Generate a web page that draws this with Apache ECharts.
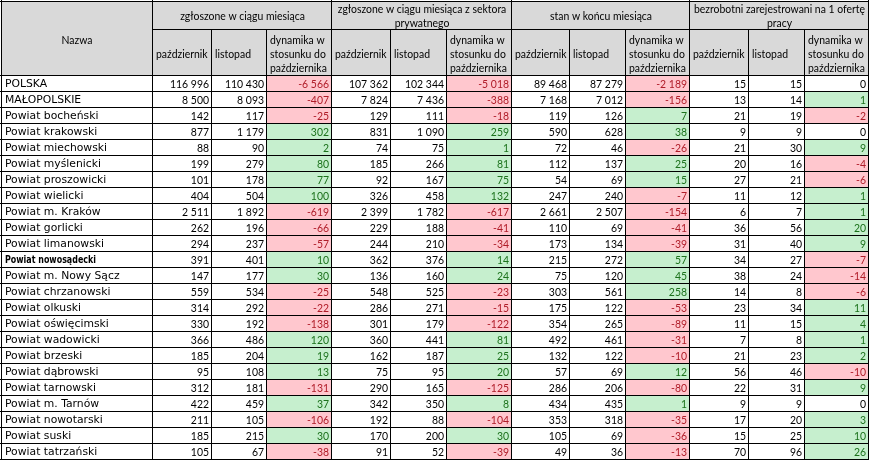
<!DOCTYPE html>
<html><head><meta charset="utf-8">
<script src="https://cdn.jsdelivr.net/npm/echarts@6/dist/echarts.min.js"></script>
<style>html,body{margin:0;padding:0;background:#fff}#c{width:871px;height:461px}</style>
</head><body><div id="c"></div>
<script>
const names = ["POLSKA","MAŁOPOLSKIE","Powiat bocheński","Powiat krakowski","Powiat miechowski","Powiat myślenicki","Powiat proszowicki","Powiat wielicki","Powiat m. Kraków","Powiat gorlicki","Powiat limanowski","Powiat nowosądecki","Powiat m. Nowy Sącz","Powiat chrzanowski","Powiat olkuski","Powiat oświęcimski","Powiat wadowicki","Powiat brzeski","Powiat dąbrowski","Powiat tarnowski","Powiat m. Tarnów","Powiat nowotarski","Powiat suski","Powiat tatrzański"];
const boldNames = ["Powiat nowosądecki"];
const groupHeaders = ["zgłoszone w ciągu miesiąca","zgłoszone w ciągu miesiąca z sektora\nprywatnego","stan w końcu miesiąca","bezrobotni zarejestrowani na 1 ofertę\npracy"];
const subHeaders = ["październik","listopad","dynamika w\nstosunku do\npaździernika"];
const nameHeader = "Nazwa";

const zOct = [116996,8500,142,877,88,199,101,404,2511,262,294,391,147,559,314,330,366,185,95,312,422,211,185,105];
const zNov = [110430,8093,117,1179,90,279,178,504,1892,196,237,401,177,534,292,192,486,204,108,181,459,105,215,67];
const zDyn = [-6566,-407,-25,302,2,80,77,100,-619,-66,-57,10,30,-25,-22,-138,120,19,13,-131,37,-106,30,-38];
const pOct = [107362,7824,129,831,74,185,92,326,2399,229,244,362,136,548,286,301,360,162,75,290,342,192,170,91];
const pNov = [102344,7436,111,1090,75,266,167,458,1782,188,210,376,160,525,271,179,441,187,95,165,350,88,200,52];
const pDyn = [-5018,-388,-18,259,1,81,75,132,-617,-41,-34,14,24,-23,-15,-122,81,25,20,-125,8,-104,30,-39];
const sOct = [89468,7168,119,590,72,112,54,247,2661,110,173,215,75,303,175,354,492,132,57,286,434,353,105,49];
const sNov = [87279,7012,126,628,46,137,69,240,2507,69,134,272,120,561,122,265,461,122,69,206,435,318,69,36];
const sDyn = [-2189,-156,7,38,-26,25,15,-7,-154,-41,-39,57,45,258,-53,-89,-31,-10,12,-80,1,-35,-36,-13];
const bOct = [15,13,21,9,21,20,27,11,6,36,31,34,38,14,23,11,7,21,56,22,9,17,15,70];
const bNov = [15,14,19,9,30,16,21,12,7,56,40,27,24,8,34,15,8,23,46,31,9,20,25,96];
const bDyn = [0,1,-2,0,9,-4,-6,1,1,20,9,-7,-14,-6,11,4,1,2,-10,9,0,3,10,26];

const valueCols = [zOct,zNov,zDyn,pOct,pNov,pDyn,sOct,sNov,sDyn,bOct,bNov,bDyn];
const dynCols = [2,5,8,11];

// ---- layout / style ----
const colEdges = [1,153,212,267,332,391,447,512,570,626,690,749,805,869];
const HEADER_FILL = '#d9d9d9';
const RED_FILL = '#ffc7ce', RED_TEXT = '#b01c28';
const GREEN_FILL = '#c6efce', GREEN_TEXT = '#1c721c';
const NAME_FONT = '10px "DejaVu Sans"';
const NAME_BOLD_FONT = 'bold 10px "DejaVu Sans"';
const NUM_FONT = '11.5px Lato';
const HEAD_FONT = '11px Lato';

const mctx = document.createElement('canvas').getContext('2d');
function tw(font, text){ mctx.font = font; return mctx.measureText(text).width; }
// horizontal scale so that the substitute fonts take the same width as the original
const nameScale = (95 + 103) / (tw(NAME_FONT,'Powiat myślenicki') + tw(NAME_FONT,'Powiat miechowski'));
const nameBoldScale = 91 / tw(NAME_BOLD_FONT,'Powiat nowosądecki');
const numScale = Math.min(1, (39 + 39) / (tw(NUM_FONT,'116 996') + tw(NUM_FONT,'110 430')));
const headScale = (53 + 122 + 55 + 37) / (tw(HEAD_FONT,'październik') + tw(HEAD_FONT,'zgłoszone w ciągu miesiąca') + tw(HEAD_FONT,'dynamika w') + tw(HEAD_FONT,'listopad'));

function fmt(n){
  const s = String(Math.abs(n));
  let out = '';
  for (let i = 0; i < s.length; i++) {
    if (i > 0 && (s.length - i) % 3 === 0) out += ' ';
    out += s[i];
  }
  return (n < 0 ? '-' : '') + out;
}

// body cells
const cells = [];
names.forEach((nm, r) => {
  const b = boldNames.includes(nm);
  cells.push({col:0,row:r,text:nm,align:'left',font:b?NAME_BOLD_FONT:NAME_FONT,scale:b?nameBoldScale:nameScale,color:'#000',fill:null,pad:4});
  valueCols.forEach((arr, k) => {
    const v = arr[r];
    let fill = null, color = '#000';
    if (dynCols.includes(k)) {
      if (v < 0) { fill = RED_FILL; color = RED_TEXT; }
      else if (v > 0) { fill = GREEN_FILL; color = GREEN_TEXT; }
    }
    cells.push({col:k+1,row:r,text:fmt(v),align:'right',font:NUM_FONT,scale:numScale,color,fill,pad:3});
  });
});

// header cells
const hcells = [];
hcells.push({x0:colEdges[0],x1:colEdges[1],y0:1,y1:76,text:nameHeader,align:'center',font:HEAD_FONT,scale:headScale,dy:2});
groupHeaders.forEach((g,i)=>{
  hcells.push({x0:colEdges[1+3*i],x1:colEdges[4+3*i],y0:1,y1:30,text:g,align:'center',font:HEAD_FONT,scale:headScale,dy:0.5});
  subHeaders.forEach((s,j)=>{
    hcells.push({x0:colEdges[1+3*i+j],x1:colEdges[2+3*i+j],y0:30,y1:76,text:s,align:'left',font:HEAD_FONT,scale:headScale,dy:1,pad:3});
  });
});

function cellGroup(x0,y0,x1,y1,c,isFirstCol,isTop,fill){
  const ch = [];
  if (fill) ch.push({type:'rect',shape:{x:x0,y:y0,width:x1-x0-1,height:y1-y0-1},style:{fill}});
  const ln = (a,b,c2,d)=>({type:'line',shape:{x1:a,y1:b,x2:c2,y2:d},style:{stroke:'#000',lineWidth:1}});
  ch.push(ln(x1-0.5,y0-1,x1-0.5,y1));
  ch.push(ln(x0-1,y1-0.5,x1,y1-0.5));
  if (isFirstCol) ch.push(ln(x0+0.5,y0-1,x0+0.5,y1));
  if (isTop) ch.push(ln(x0-1,y0+0.5,x1,y0+0.5));
  const pad = c.pad || 4;
  const tx = c.align==='left' ? x0+pad : (c.align==='right' ? x1-pad : (x0+x1)/2);
  ch.push({type:'text',x:tx,y:(y0+y1)/2+(c.dy||0),scaleX:c.scale,
    style:{text:c.text,x:0,y:0,align:c.align,verticalAlign:'middle',fill:c.color||'#000',font:c.font,lineHeight:14}});
  return {type:'group',children:ch};
}

const chart = echarts.init(document.getElementById('c'), null, {renderer:'canvas'});
chart.setOption({
  animation:false,
  grid:[{left:0,top:1,width:871,height:75},{left:0,top:76,width:871,height:384}],
  xAxis:[{type:'value',min:0,max:871,show:false,gridIndex:0},{type:'value',min:0,max:871,show:false,gridIndex:1}],
  yAxis:[{type:'value',min:1,max:76,inverse:true,show:false,gridIndex:0},
         {type:'category',data:names,inverse:true,show:false,gridIndex:1}],
  series:[
    {type:'custom',xAxisIndex:0,yAxisIndex:0,clip:false,silent:true,
     data:hcells.map(h=>[h.x0,h.y0,h.x1,h.y1]),
     renderItem:(params,api)=>{
       const h = hcells[params.dataIndex];
       const p0 = api.coord([api.value(0),api.value(1)]);
       const p1 = api.coord([api.value(2),api.value(3)]);
       const x0=Math.round(p0[0]),y0=Math.round(p0[1]),x1=Math.round(p1[0]),y1=Math.round(p1[1]);
       return cellGroup(x0,y0,x1,y1,h,h.x0===colEdges[0],h.y0===1,HEADER_FILL);
     }},
    {type:'custom',xAxisIndex:1,yAxisIndex:1,clip:false,silent:true,
     data:cells.map(c=>[colEdges[c.col],c.row,colEdges[c.col+1]]),
     renderItem:(params,api)=>{
       const c = cells[params.dataIndex];
       const p0 = api.coord([api.value(0),api.value(1)]);
       const p1 = api.coord([api.value(2),api.value(1)]);
       const hh = api.size([0,1])[1];
       const x0=Math.round(p0[0]),x1=Math.round(p1[0]);
       const y0=Math.round(p0[1]-hh/2),y1=Math.round(p0[1]+hh/2);
       return cellGroup(x0,y0,x1,y1,{...c,dy:0.5},c.col===0,false,c.fill);
     }}
  ]
});
</script></body></html>
